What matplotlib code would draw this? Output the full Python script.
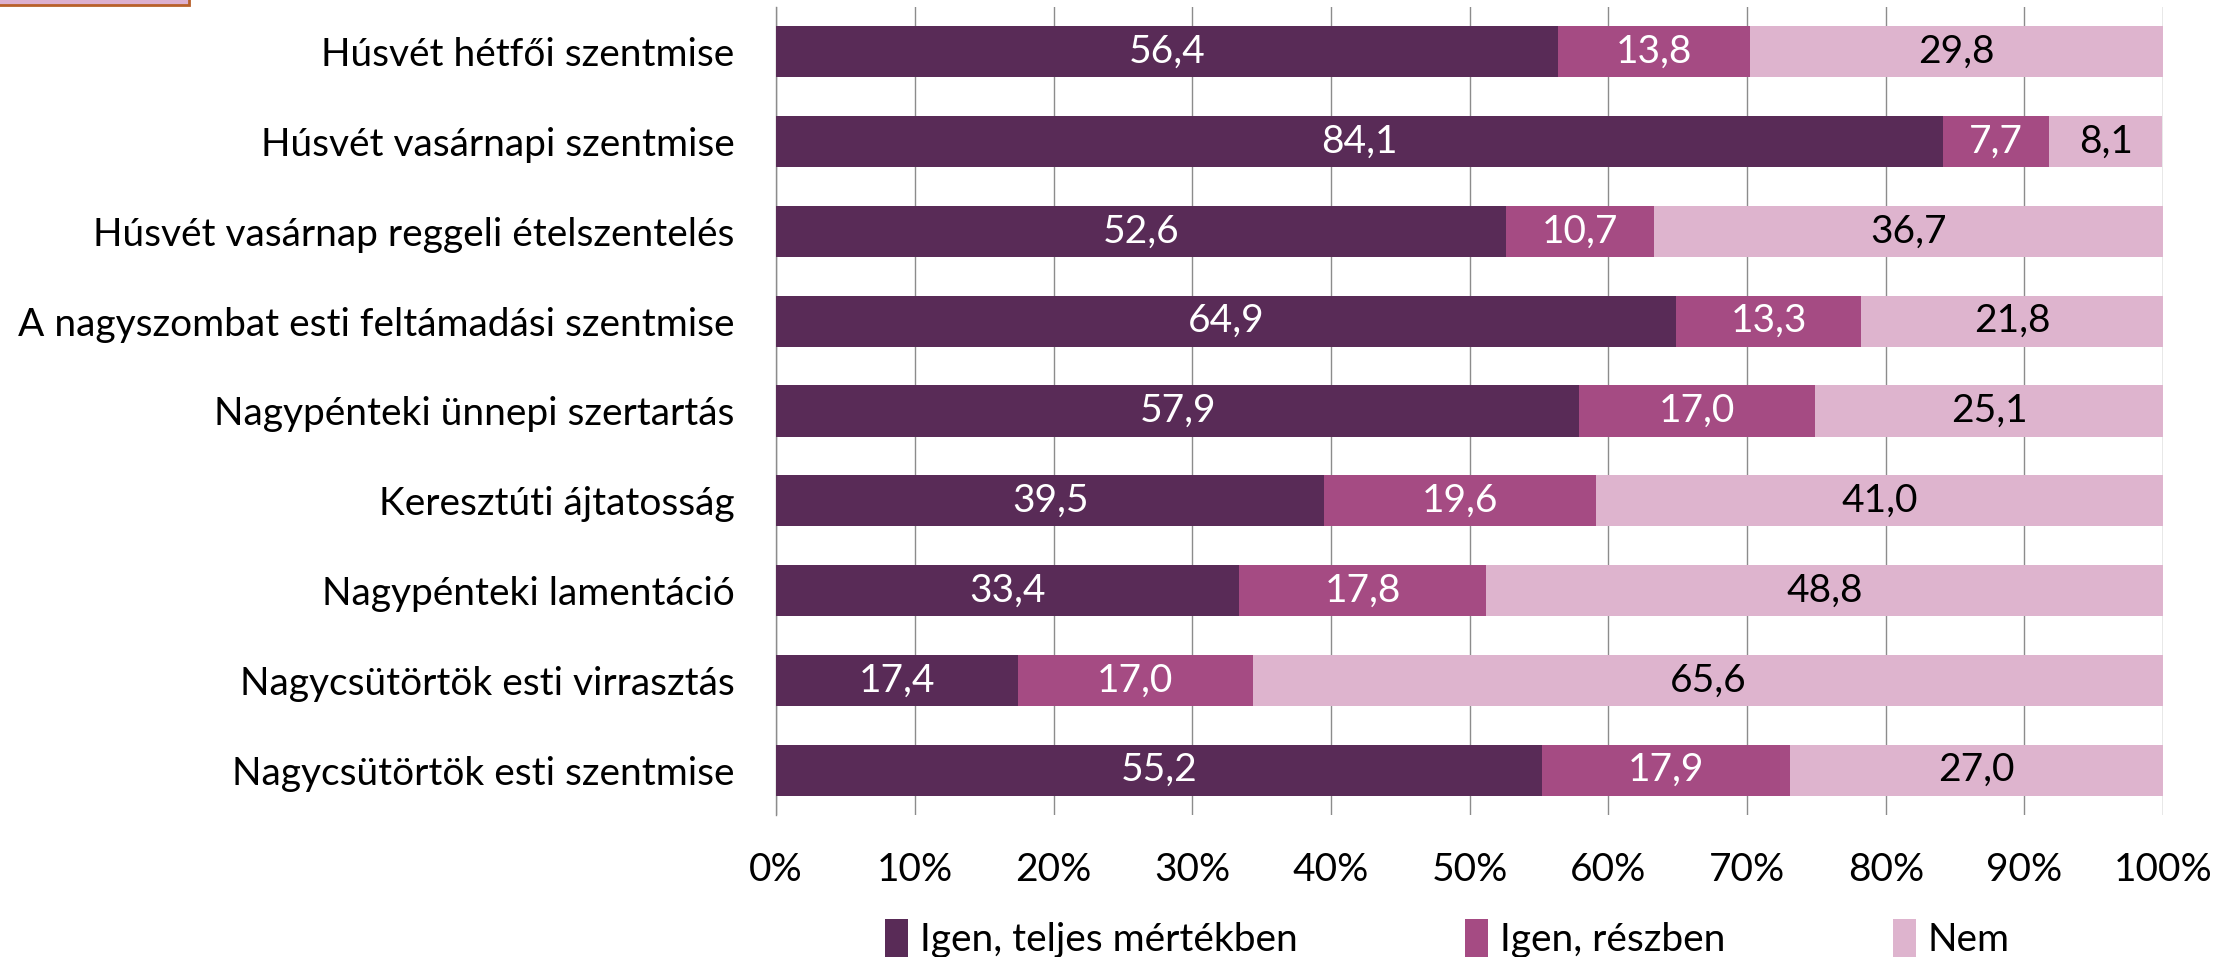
import numpy as np
import matplotlib
matplotlib.use("Agg")
import matplotlib.pyplot as plt
from matplotlib.patches import Rectangle, Patch

# adatok (alulról felfelé)
categories = [
    "Nagycsütörtök esti szentmise",
    "Nagycsütörtök esti virrasztás",
    "Nagypénteki lamentáció",
    "Keresztúti ájtatosság",
    "Nagypénteki ünnepi szertartás",
    "A nagyszombat esti feltámadási szentmise",
    "Húsvét vasárnap reggeli ételszentelés",
    "Húsvét vasárnapi szentmise",
    "Húsvét hétfői szentmise",
]
igen_teljes = [55.2, 17.4, 33.4, 39.5, 57.9, 64.9, 52.6, 84.1, 56.4]
igen_reszben = [17.9, 17.0, 17.8, 19.6, 17.0, 13.3, 10.7, 7.7, 13.8]
nem = [27.0, 65.6, 48.8, 41.0, 25.1, 21.8, 36.7, 8.1, 29.8]
series_names = ["Igen, teljes mértékben", "Igen, részben", "Nem"]
x_ticks = [0, 10, 20, 30, 40, 50, 60, 70, 80, 90, 100]

colors = ["#592B57", "#A54B83", "#DEB4CE"]
label_colors = ["white", "white", "black"]

plt.rcParams['font.family'] = ['Lato', 'DejaVu Sans']
FS = 28

fig = plt.figure(figsize=(22.37, 9.57), dpi=100)
ax = fig.add_axes([0.347, 0.1484, 0.6200, 0.8443])

y = np.arange(len(categories))
series = [igen_teljes, igen_reszben, nem]
left = np.zeros(len(categories))
for vals, col, lcol, name in zip(series, colors, label_colors, series_names):
    vals = np.array(vals)
    bars = ax.barh(y, vals, left=left, height=0.57, color=col, label=name, zorder=3)
    ax.bar_label(bars, labels=[f"{v:.1f}".replace(".", ",") for v in vals],
                 label_type="center", color=lcol, fontsize=FS)
    left = left + vals

ax.set_xlim(0, 100)
ax.set_ylim(-0.5, len(categories) - 0.5)
ax.set_xticks(x_ticks)
ax.set_xticklabels([f"{t}%" for t in x_ticks], fontsize=FS)
ax.set_yticks(y)
ax.set_yticklabels(categories, fontsize=FS)
ax.tick_params(axis="y", length=0, pad=30)
ax.tick_params(axis="x", length=0, pad=27)
ax.grid(axis="x", color="#8C8C8C", linewidth=1.0, zorder=0)
for s in ["top", "right", "bottom"]:
    ax.spines[s].set_visible(False)
ax.spines["left"].set_color("#8C8C8C")
ax.spines["left"].set_linewidth(1.0)

handles = [Patch(facecolor=c) for c in colors]
fig.legend(handles, series_names, loc="center", bbox_to_anchor=(0.647, 0.019),
           ncol=3, frameon=False, handlelength=0.6, handleheight=1.1,
           handletextpad=0.3, columnspacing=4.3, prop={"size": FS})

# levágott doboz a bal felső sarokban
fig.patches.append(Rectangle((-0.01, 0.9945), 0.0945, 0.02, transform=fig.transFigure,
                             facecolor="#DDB0CF", edgecolor="#B8602A", linewidth=2))

fig.savefig("out.png", dpi=100)
